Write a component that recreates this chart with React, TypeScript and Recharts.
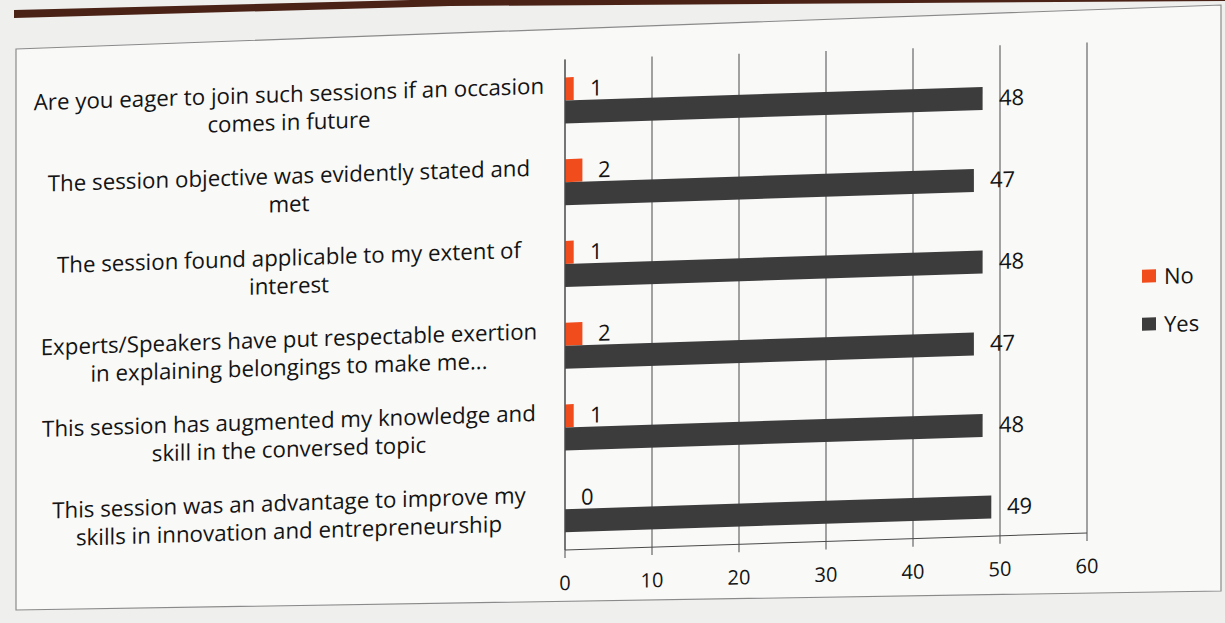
import React from 'react'
import { BarChart, Bar, XAxis, YAxis, CartesianGrid, Legend, LabelList } from 'recharts'

const questions = [
  'Are you eager to join such sessions if an occasion\ncomes in future',
  'The session objective was evidently stated and\nmet',
  'The session found applicable to my extent of\ninterest',
  'Experts/Speakers have put respectable exertion\nin explaining belongings to make me...',
  'This session has augmented my knowledge and\nskill in the conversed topic',
  'This session was an advantage to improve my\nskills in innovation and entrepreneurship',
]
const noCounts = [1, 2, 1, 2, 1, 0]
const yesCounts = [48, 47, 48, 47, 48, 49]
const xTicks = [0, 10, 20, 30, 40, 50, 60]

const data = questions.map((q, i) => ({ question: q, No: noCounts[i], Yes: yesCounts[i] }))

const FONT = '"Open Sans", Lato, sans-serif'
const INK = '#141414'

// two-line category label, centred in the space left of the axis
function QuestionTick({ x, y, payload }: any) {
  const lines = String(payload.value).split('\n')
  const cx = x - 276
  const lh = 28
  const top = y - 1 - ((lines.length - 1) * lh) / 2
  return (
    <text x={cx} y={top} textAnchor="middle" fontFamily={FONT} fontSize={22.3} fill={INK}>
      {lines.map((l, i) => (
        <tspan key={i} x={cx} y={top + i * lh} dy="0.35em">
          {l}
        </tspan>
      ))}
    </text>
  )
}

// value label drawn for every bar, zero counts included
function ValueLabel({ x, y, width, height, value }: any) {
  return (
    <text x={x + Math.round(width) + 16} y={y + height / 2} dy="0.35em" fontFamily={FONT} fontSize={22} fill={INK}>
      {String(value)}
    </text>
  )
}

function LegendBox({ payload }: any) {
  return (
    <div style={{ fontFamily: FONT, fontSize: 22, color: INK }}>
      {(payload || []).map((p: any) => (
        <div key={p.value} style={{ display: 'flex', alignItems: 'center', height: 48 }}>
          <span style={{ display: 'inline-block', width: 14, height: 13, background: p.color, marginRight: 8 }} />
          {p.value}
        </div>
      ))}
    </div>
  )
}

export default function App() {
  return (
    <div style={{ position: 'absolute', left: 0, top: 0, width: 1225, height: 623, overflow: 'hidden', background: '#efefee' }}>
      {/* page rule and chart frame from the printed sheet */}
      <svg width={1225} height={623} style={{ position: 'absolute', left: 0, top: 0 }}>
        <polygon points="16,49 1221,5 1221,591 16,610" fill="#f9f9f8" stroke="#8a8a8a" strokeWidth={1.2} />
        <polygon points="14,10 450,-1 1225,-6 1225,1 450,6 14,18" fill="#4a2216" />
      </svg>
      <div style={{ position: 'absolute', left: 0, top: 0, transform: 'skewY(-1.85deg)', transformOrigin: '825px 300px' }}>
        <BarChart
          width={1225}
          height={623}
          data={data}
          layout="vertical"
          margin={{ top: 51, right: 138, bottom: 41.5, left: 0 }}
          barSize={23}
          barGap={0}
        >
          <CartesianGrid horizontal={false} stroke="#4a4a4a" strokeWidth={1} />
          <XAxis
            type="number"
            domain={[0, 60]}
            ticks={xTicks}
            height={40}
            tickSize={8}
            tickMargin={18}
            axisLine={{ stroke: '#4a4a4a' }}
            tickLine={{ stroke: '#4a4a4a' }}
            tick={{ fontFamily: FONT, fontSize: 20, fill: INK }}
          />
          <YAxis
            type="category"
            dataKey="question"
            width={565}
            tickLine={false}
            tickSize={0}
            tickMargin={0}
            axisLine={{ stroke: '#4a4a4a' }}
            tick={<QuestionTick />}
            interval={0}
          />
          <Legend
            layout="vertical"
            align="center"
            verticalAlign="middle"
            content={<LegendBox />}
            wrapperStyle={{ left: 1142, top: 262, width: 'auto' }}
          />
          <Bar dataKey="No" fill="#f04c1c" minPointSize={0.01} isAnimationActive={false}>
            <LabelList dataKey="No" content={<ValueLabel />} />
          </Bar>
          <Bar dataKey="Yes" fill="#3c3c3c" isAnimationActive={false}>
            <LabelList dataKey="Yes" content={<ValueLabel />} />
          </Bar>
        </BarChart>
      </div>
    </div>
  )
}
